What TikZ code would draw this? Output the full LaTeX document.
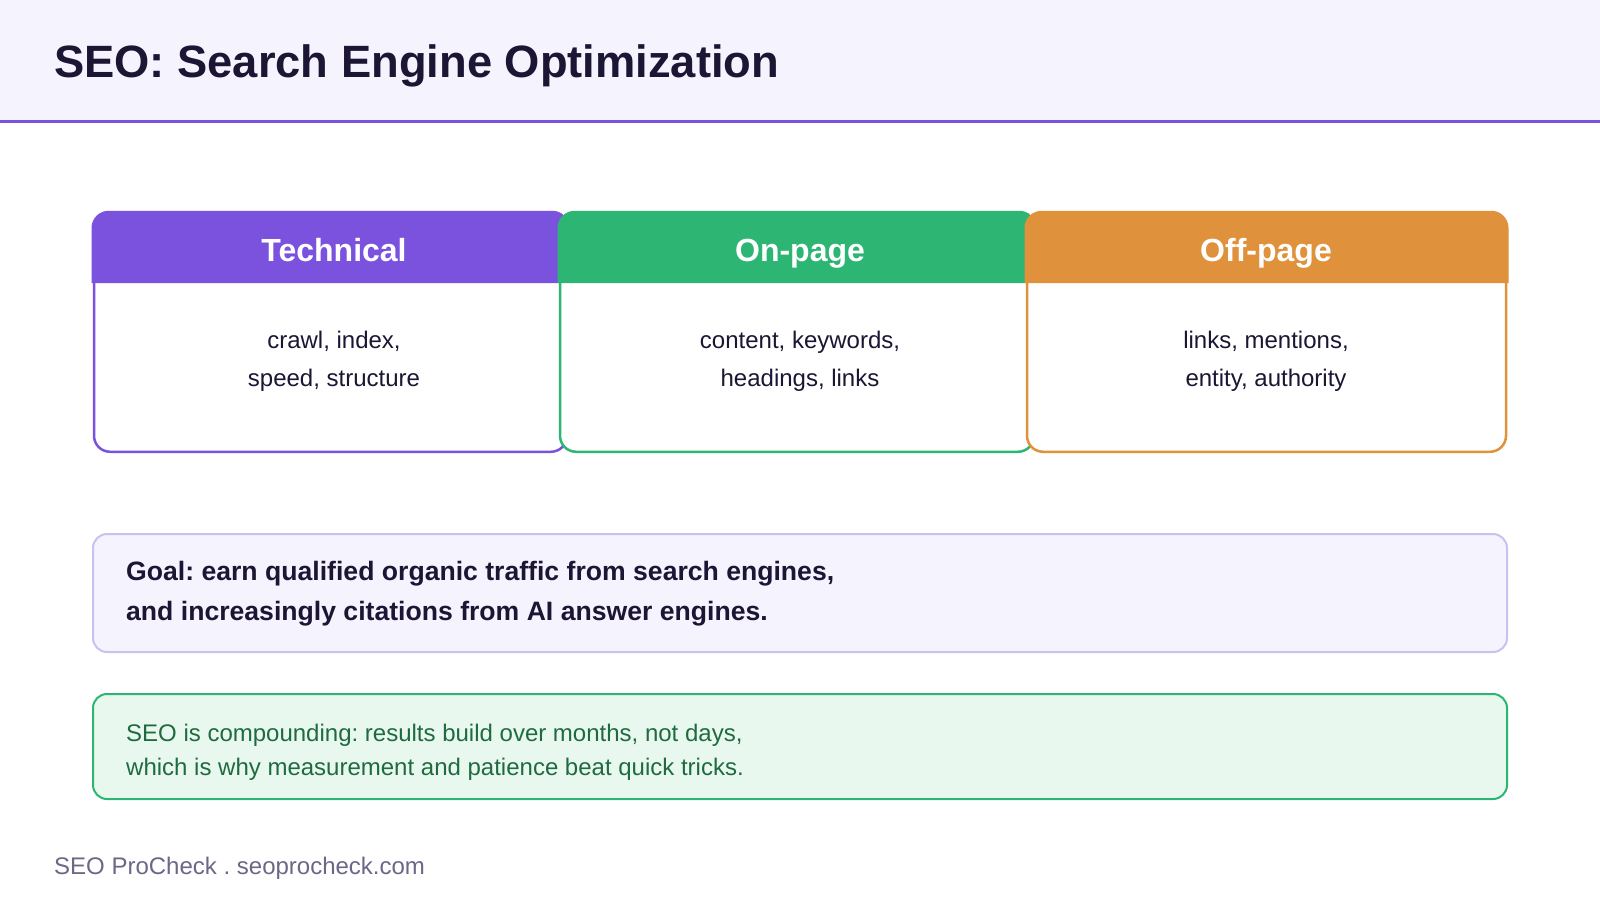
\documentclass[tikz,border=0pt]{standalone}
\usepackage{fontspec}
\setmainfont{Liberation Sans}
\usetikzlibrary{calc}
\definecolor{ink}{HTML}{1C1533}
\definecolor{purp}{HTML}{7B52DE}
\definecolor{grn}{HTML}{2DB673}
\definecolor{org}{HTML}{E0913B}
\definecolor{lav}{HTML}{F5F3FE}
\definecolor{lavline}{HTML}{C9C1EF}
\definecolor{mint}{HTML}{E9F8EF}
\definecolor{notegreen}{HTML}{1F6B40}
\definecolor{foot}{HTML}{6B6887}
\begin{document}
\frenchspacing
\begin{tikzpicture}[x=1pt,y=-1pt,
  colbox/.style={rectangle, rounded corners=16pt, fill=white, line width=2.5pt,
    minimum width=#1, minimum height=238.5pt, inner sep=0pt},
  headtxt/.style={anchor=base, inner sep=0pt, text=white,
    font=\bfseries\fontsize{32}{38}\selectfont},
  bodytxt/.style={anchor=center, inner sep=0pt, align=center, text=ink,
    font=\fontsize{24}{37.5}\selectfont},
  widebox/.style={rectangle, rounded corners=14pt, line width=2pt,
    minimum width=1414pt, inner sep=0pt}
]
\useasboundingbox (0,0) rectangle (1600,900);
\fill[white] (0,0) rectangle (1600,900);
% header band
\fill[lav] (0,0) rectangle (1600,120);
\draw[purp, line width=3pt] (0,121.5) -- (1600,121.5);
\node[anchor=base west, inner sep=0pt, text=ink,
  font=\bfseries\fontsize{45.3}{54}\selectfont] (title) at (54,77)
  {SEO: Search Engine Optimization};

% Technical
\node[colbox=473pt, draw=purp] (tech) at (330.5,332.5) {};
\filldraw[purp, line width=2.5pt] ($(tech.north west)+(0,69.75)$) [rounded corners=16pt]
  -- (tech.north west) -- (tech.north east) [sharp corners]
  -- ($(tech.north east)+(0,69.75)$) -- cycle;
\node[headtxt] (techh) at (334,261.5) {Technical};
\node[bodytxt] (techb) at (334,361.5) {crawl, index,\\speed, structure};

% On-page
\node[colbox=474pt, draw=grn] (onp) at (797,332.5) {};
\filldraw[grn, line width=2.5pt] ($(onp.north west)+(0,69.75)$) [rounded corners=16pt]
  -- (onp.north west) -- (onp.north east) [sharp corners]
  -- ($(onp.north east)+(0,69.75)$) -- cycle;
\node[headtxt] (onph) at (800,261.5) {On-page};
\node[bodytxt] (onpb) at (800,361.5) {content, keywords,\\headings, links};

% Off-page
\node[colbox=479pt, draw=org] (offp) at (1266.5,332.5) {};
\filldraw[org, line width=2.5pt] ($(offp.north west)+(0,69.75)$) [rounded corners=16pt]
  -- (offp.north west) -- (offp.north east) [sharp corners]
  -- ($(offp.north east)+(0,69.75)$) -- cycle;
\node[headtxt] (offph) at (1266,261.5) {Off-page};
\node[bodytxt] (offpb) at (1266,361.5) {links, mentions,\\entity, authority};

% Goal box
\node[widebox, fill=lav, draw=lavline, minimum height=118pt] (goal) at (800,593) {};
\node[anchor=west, inner sep=0pt, align=left, text=ink,
  font=\bfseries\fontsize{26.6}{40}\selectfont] (goaltxt) at (126,594)
  {Goal: earn qualified organic traffic from search engines,\\and increasingly citations from AI answer engines.};

% Note box
\node[widebox, fill=mint, draw=grn, minimum height=105pt] (note) at (800,746.5) {};
\node[anchor=west, inner sep=0pt, align=left, text=notegreen,
  font=\fontsize{24}{34}\selectfont] (notetxt) at (126,752.4)
  {SEO is compounding: results build over months, not days,\\which is why measurement and patience beat quick tricks.};

% footer
\node[anchor=base west, inner sep=0pt, text=foot,
  font=\fontsize{24}{29}\selectfont] (footer) at (54,874.5)
  {SEO ProCheck . seoprocheck.com};
\end{tikzpicture}
\end{document}
